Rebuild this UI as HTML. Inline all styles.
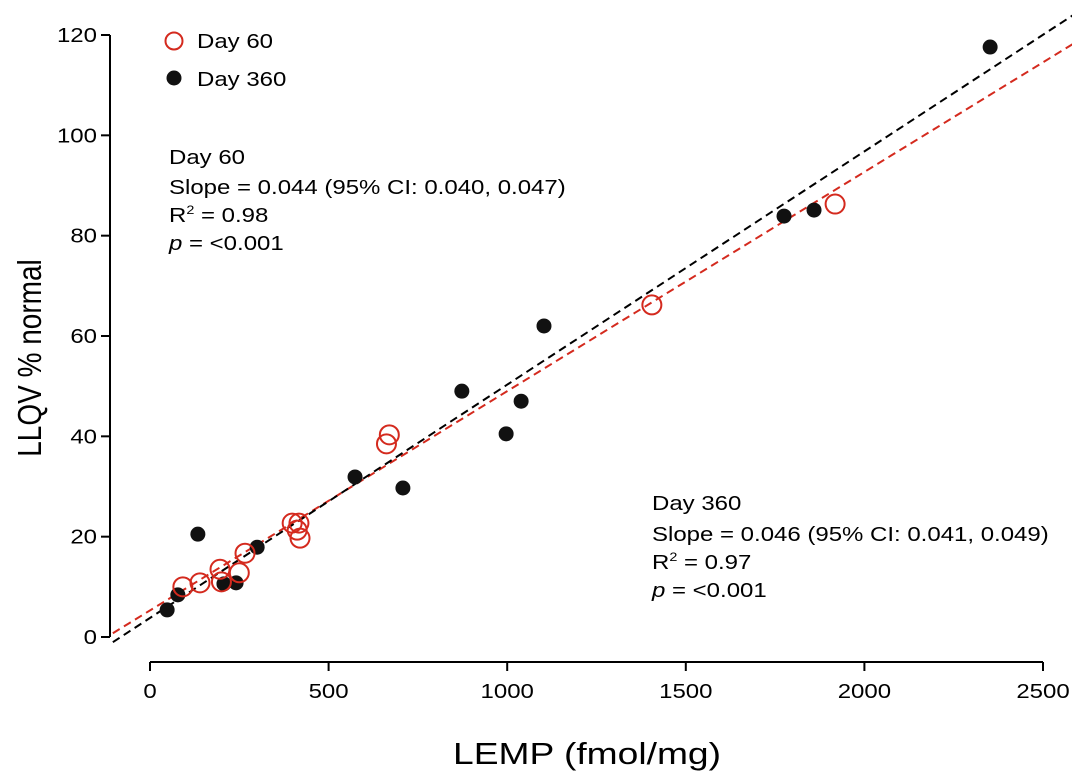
<!DOCTYPE html>
<html><head><meta charset="utf-8"><style>
html,body{margin:0;padding:0;background:#fff}
svg{display:block;font-family:"Liberation Sans",Arial,sans-serif}
</style></head><body>
<svg id="chart" width="1072" height="778" viewBox="0 0 1072 778" xmlns="http://www.w3.org/2000/svg">
<g id="axes"></g><g id="lines"></g><g id="points"></g>
<g id="legend">
 <circle cx="174" cy="41" r="8.5" fill="none" stroke="#d42a1e" stroke-width="2"/>
 <text transform="translate(197,48) scale(1.2,1)" font-size="20">Day 60</text>
 <circle cx="174" cy="78" r="7.5" fill="#111"/>
 <text transform="translate(197,86) scale(1.2,1)" font-size="20">Day 360</text>
</g>
<g font-size="20">
 <text transform="translate(169,164) scale(1.2,1)">Day 60</text>
 <text transform="translate(169,194) scale(1.2,1)">Slope = 0.044 (95% CI: 0.040, 0.047)</text>
 <text transform="translate(169,222) scale(1.2,1)">R<tspan font-size="12" dy="-8">2</tspan><tspan dy="8"> = 0.98</tspan></text>
 <text transform="translate(169,250) scale(1.2,1)"><tspan font-style="italic">p</tspan> = &lt;0.001</text>
</g>
<g font-size="20">
 <text transform="translate(652,510) scale(1.2,1)">Day 360</text>
 <text transform="translate(652,541) scale(1.2,1)">Slope = 0.046 (95% CI: 0.041, 0.049)</text>
 <text transform="translate(652,569) scale(1.2,1)">R<tspan font-size="12" dy="-8">2</tspan><tspan dy="8"> = 0.97</tspan></text>
 <text transform="translate(652,597) scale(1.2,1)"><tspan font-style="italic">p</tspan> = &lt;0.001</text>
</g>
<text transform="translate(41,358) rotate(-90) scale(1,1.2)" text-anchor="middle" font-size="28">LLQV % normal</text>
<text transform="translate(587,764) scale(1.2,1)" text-anchor="middle" font-size="31">LEMP (fmol/mg)</text>
</svg>
<script>
const xTicks=[0,500,1000,1500,2000,2500];
const yTicks=[0,20,40,60,80,100,120];
const day60X=[92,140,196,200,250,266,398,417,412,420,662,670,1405,1918];
const day60Y=[10.0,10.8,13.5,11.0,12.8,16.7,22.7,22.7,21.3,19.7,38.5,40.3,66.2,86.3];
const day360X=[48,78,134,207,241,300,574,708,873,997,1039,1103,1775,1859,2352];
const day360Y=[5.4,8.4,20.5,10.6,10.8,17.9,31.9,29.7,49.0,40.5,47.0,62.0,83.9,85.1,117.6];
const fitDay60=[5.3,0.0437];
const fitDay360=[3.8,0.0465];
const NS="http://www.w3.org/2000/svg";
const sx=v=>150+v*893/2500, sy=v=>637-v*602/120;
function mk(p,t,a){const e=document.createElementNS(NS,t);for(const k in a)e.setAttribute(k,a[k]);p.appendChild(e);return e;}
const ax=document.getElementById('axes');
let l=mk(ax,'line',{x1:110,y1:sy(120),x2:110,y2:sy(0),stroke:'#000','stroke-width':2});


l=mk(ax,'line',{x1:sx(0),y1:662,x2:sx(2500),y2:662,stroke:'#000','stroke-width':2});


yTicks.forEach(v=>{
 const t=mk(ax,'line',{x1:101,x2:110,y1:sy(v),y2:sy(v),stroke:'#000','stroke-width':2});
 
 
 const s=mk(ax,'text',{transform:'translate(97,'+(sy(v)+7)+') scale(1.2,1)','text-anchor':'end','font-size':20});s.textContent=v;
 
 
});
xTicks.forEach(v=>{
 const t=mk(ax,'line',{x1:sx(v),x2:sx(v),y1:662,y2:671,stroke:'#000','stroke-width':2});
 
 
 const s=mk(ax,'text',{transform:'translate('+sx(v)+',698) scale(1.2,1)','text-anchor':'middle','font-size':20});s.textContent=v;
 
 
});
const ln=document.getElementById('lines');
function fit(f,c,name){
 const x0=-104,x1=2600;
 const e=mk(ln,'line',{x1:sx(x0),y1:sy(f[0]+f[1]*x0),x2:sx(x1),y2:sy(f[0]+f[1]*x1),stroke:c,'stroke-width':2,'stroke-dasharray':'8,5'});
 
 
}
fit(fitDay60,'#d42a1e','fit-line-day60');
fit(fitDay360,'#000','fit-line-day360');
const pt=document.getElementById('points');
day360X.forEach((x,i)=>{
 const c=mk(pt,'circle',{cx:sx(x),cy:sy(day360Y[i]),r:7.5,fill:'#111'});
 
 
});
day60X.forEach((x,i)=>{
 const c=mk(pt,'circle',{cx:sx(x),cy:sy(day60Y[i]),r:9.5,fill:'none',stroke:'#d42a1e','stroke-width':2});
 
 
});
</script>
</body></html>
